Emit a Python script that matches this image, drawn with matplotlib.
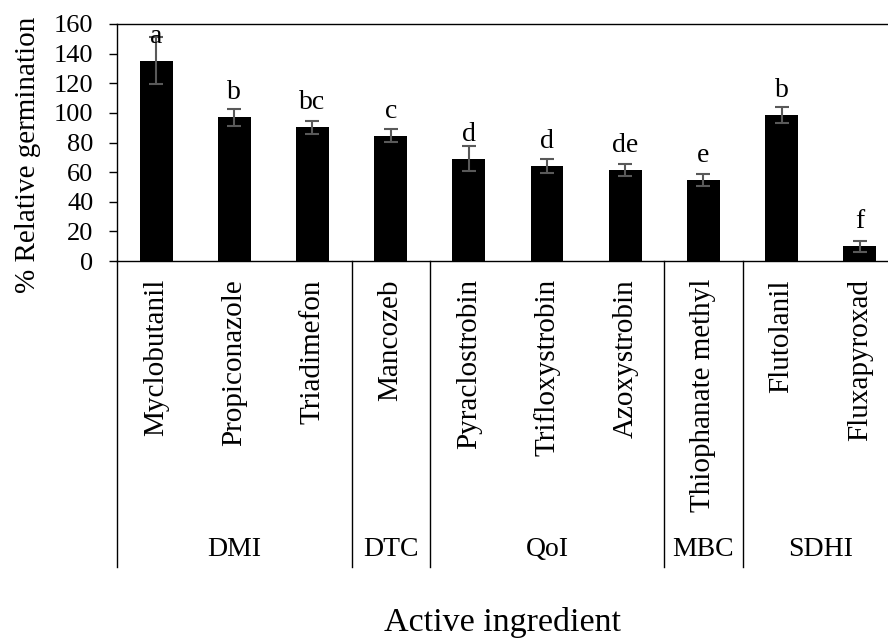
import matplotlib
matplotlib.use("Agg")
import matplotlib.pyplot as plt
import matplotlib.transforms as mtransforms

# ---- Data ----
ingredients = ["Myclobutanil", "Propiconazole", "Triadimefon", "Mancozeb",
               "Pyraclostrobin", "Trifloxystrobin", "Azoxystrobin",
               "Thiophanate methyl", "Flutolanil", "Fluxapyroxad"]
germination = [135.2, 97.0, 90.2, 84.6, 69.1, 64.1, 61.4, 54.9, 98.6, 10.1]
errors = [16.0, 5.8, 4.5, 4.2, 8.5, 4.6, 3.8, 4.0, 5.7, 3.7]
letters = ["a", "b", "bc", "c", "d", "d", "de", "e", "b", "f"]

# groups: (name, first index, last index)
group_names = ["DMI", "DTC", "QoI", "MBC", "SDHI"]
group_start = [0, 3, 4, 7, 8]
group_end = [2, 3, 6, 7, 9]

plt.rcParams["font.family"] = ["Liberation Serif", "DejaVu Serif"]

fig = plt.figure(figsize=(8.88, 6.4), dpi=100)
ax = fig.add_axes([117 / 888, 379 / 640, 771 / 888, 237 / 640])

x = list(range(len(ingredients)))
ax.bar(x, germination, width=0.42, color="black", zorder=2)
ax.errorbar(x, germination, yerr=errors, fmt="none", ecolor="#595959",
            elinewidth=1.5, capsize=5, capthick=1.5, zorder=3)

# letters above the bars
for xi, val, lab in zip(x, germination, letters):
    ax.annotate(lab, (xi, val), xytext=(0, 13), textcoords="offset points",
                ha="center", va="baseline", fontsize=20)

ax.set_xlim(-0.5, 9.36)
ax.set_ylim(0, 160)
ax.set_yticks(range(0, 161, 20))
ax.tick_params(axis="y", labelsize=19, length=6, width=1, pad=11, direction="out")
ax.set_xticks(x)
ax.set_xticklabels(ingredients, rotation=90, fontsize=21)
ax.tick_params(axis="x", length=0, pad=13)

ax.spines["right"].set_visible(False)
for s in ["left", "top", "bottom"]:
    ax.spines[s].set_linewidth(1.0)

# ---- Multi-level category axis below ----
trans = mtransforms.blended_transform_factory(ax.transData, ax.transAxes)
low = -(567 - 261) / 237
seps = [-0.5, 2.5, 3.5, 6.5, 7.5]
for sx in seps:
    ax.plot([sx, sx], [0, low], transform=trans, color="black", lw=1.0,
            clip_on=False)

for name, a, b in zip(group_names, group_start, group_end):
    ax.text((a + b) / 2, -(550 - 261) / 237, name, transform=trans,
            ha="center", va="center", fontsize=20)

ax.text(0.5, -(622 - 261) / 237, "Active ingredient", transform=ax.transAxes,
        ha="center", va="center", fontsize=24.5)
ax.text(-0.115, 0.447, "% Relative germination", transform=ax.transAxes,
        rotation=90, ha="center", va="center", fontsize=21)

fig.savefig("out.png", dpi=100)
